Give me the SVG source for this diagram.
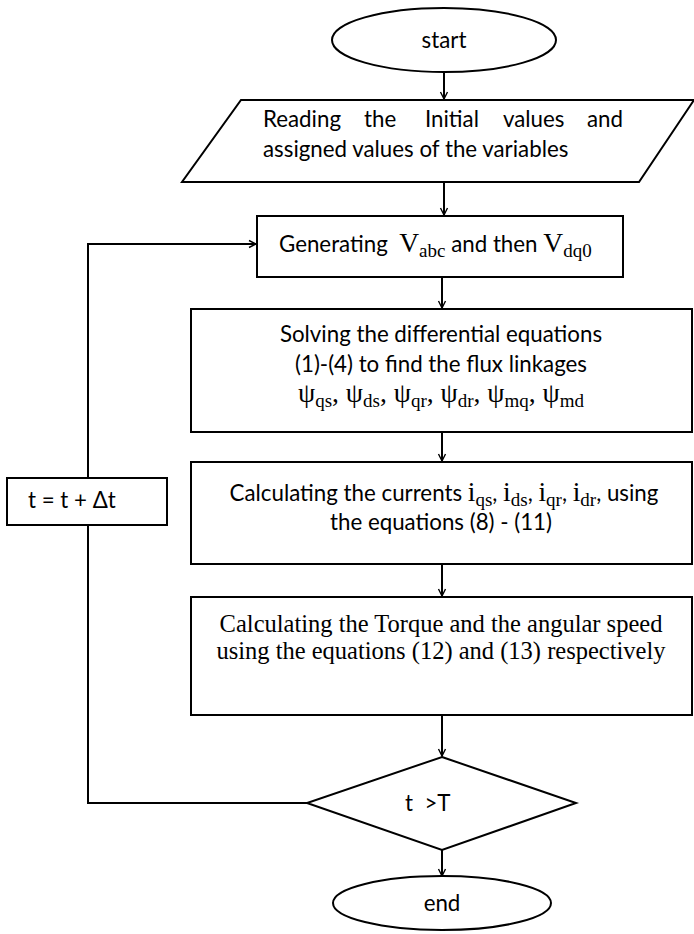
<svg xmlns="http://www.w3.org/2000/svg" width="694" height="934" viewBox="0 0 694 934">
<defs>
<marker id="arr" markerWidth="10" markerHeight="10" refX="8" refY="5" orient="auto" markerUnits="userSpaceOnUse">
<path d="M1,1.5 L8,5 L1,8.5" fill="none" stroke="#000" stroke-width="1.4"/>
</marker>
</defs>
<style>
.shape{fill:#fff;stroke:#000;stroke-width:2}
.conn{fill:none;stroke:#000;stroke-width:2}
.sans{font-family:Lato,"Open Sans","Liberation Sans",sans-serif;font-size:22.3px;fill:#000}
.serif{font-family:"Liberation Serif","DejaVu Serif",serif;font-size:24.5px;fill:#000}
.math{font-family:"Liberation Serif","DejaVu Serif",serif;font-size:27.5px;fill:#000}
.sub{font-size:19px}
</style>
<rect width="694" height="934" fill="#fff"/>
<g id="connectors">
<line class="conn" x1="444" y1="72" x2="444" y2="99" marker-end="url(#arr)"/>
<line class="conn" x1="444" y1="182" x2="444" y2="215" marker-end="url(#arr)"/>
<line class="conn" x1="442" y1="277" x2="442" y2="308" marker-end="url(#arr)"/>
<line class="conn" x1="442" y1="432" x2="442" y2="461" marker-end="url(#arr)"/>
<line class="conn" x1="442" y1="564" x2="442" y2="596" marker-end="url(#arr)"/>
<line class="conn" x1="442" y1="715" x2="442" y2="756" marker-end="url(#arr)"/>
<line class="conn" x1="442" y1="850" x2="442" y2="876" marker-end="url(#arr)"/>
<polyline class="conn" points="307,803 88,803 88,525"/>
<polyline class="conn" points="88,478 88,244 256,244" marker-end="url(#arr)"/>
</g>
<g id="start">
<ellipse class="shape" cx="444" cy="40" rx="112" ry="32"/>
<text class="sans" x="444" y="48" text-anchor="middle">start</text>
</g>
<g id="read">
<polygon class="shape" points="241,100 694,100 639,182 182,182"/>
<text class="sans" y="127"><tspan x="263">Reading</tspan><tspan x="364">the</tspan><tspan x="425">Initial</tspan><tspan x="503">values</tspan><tspan x="587">and</tspan></text>
<text class="sans" x="263" y="157">assigned values of the variables</text>
</g>
<g id="generate">
<rect class="shape" x="257" y="216" width="366" height="61"/>
<text class="sans" x="279" y="252">Generating&#160; <tspan class="math">V</tspan><tspan class="math sub" dy="5">abc</tspan><tspan dy="-5"> and then </tspan><tspan class="math">V</tspan><tspan class="math sub" dy="5">dq0</tspan></text>
</g>
<g id="solve">
<rect class="shape" x="191" y="309" width="501" height="123"/>
<text class="sans" x="441" y="342" text-anchor="middle">Solving the differential equations</text>
<text class="sans" x="441" y="372" text-anchor="middle">(1)-(4) to find the flux linkages</text>
<text class="math" x="441" y="402" text-anchor="middle">ψ<tspan class="sub" dy="5">qs</tspan><tspan dy="-5">, ψ</tspan><tspan class="sub" dy="5">ds</tspan><tspan dy="-5">, ψ</tspan><tspan class="sub" dy="5">qr</tspan><tspan dy="-5">, ψ</tspan><tspan class="sub" dy="5">dr</tspan><tspan dy="-5">, ψ</tspan><tspan class="sub" dy="5">mq</tspan><tspan dy="-5">, ψ</tspan><tspan class="sub" dy="5">md</tspan></text>
</g>
<g id="currents">
<rect class="shape" x="191" y="462" width="501" height="102"/>
<text class="sans" x="444" y="501" text-anchor="middle">Calculating the currents <tspan class="math">i</tspan><tspan class="math sub" dy="5">qs</tspan><tspan dy="-5">, </tspan><tspan class="math">i</tspan><tspan class="math sub" dy="5">ds</tspan><tspan dy="-5">, </tspan><tspan class="math">i</tspan><tspan class="math sub" dy="5">qr</tspan><tspan dy="-5">, </tspan><tspan class="math">i</tspan><tspan class="math sub" dy="5">dr</tspan><tspan dy="-5">, using</tspan></text>
<text class="sans" x="441" y="530" text-anchor="middle">the equations (8) - (11)</text>
</g>
<g id="torque">
<rect class="shape" x="191" y="597" width="501" height="118"/>
<text class="serif" x="441" y="632" text-anchor="middle">Calculating the Torque and the angular speed</text>
<text class="serif" x="441" y="659" text-anchor="middle">using the equations (12) and (13) respectively</text>
</g>
<g id="increment">
<rect class="shape" x="7" y="478" width="160" height="47"/>
<text class="sans" x="28" y="508">t = t + Δt</text>
</g>
<g id="decision">
<polygon class="shape" points="442,757 576,803 442,850 307,803"/>
<text class="sans" x="405" y="811">t&#160; &gt;T</text>
</g>
<g id="end">
<ellipse class="shape" cx="442" cy="903" rx="109" ry="27"/>
<text class="sans" x="442" y="911" text-anchor="middle">end</text>
</g>
</svg>
